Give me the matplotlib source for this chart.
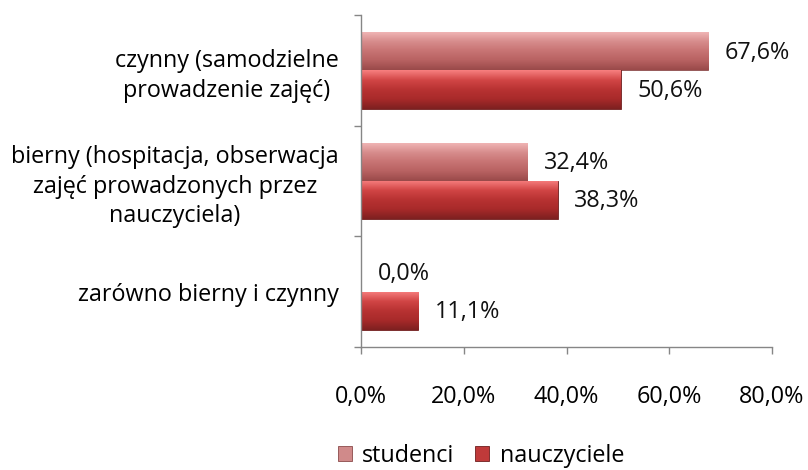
import numpy as np
import matplotlib
matplotlib.use("Agg")
import matplotlib.pyplot as plt
from matplotlib.patches import Patch
from matplotlib.colors import LinearSegmentedColormap

categories = ["czynny (samodzielne\nprowadzenie zajęć)",
              "bierny (hospitacja, obserwacja\nzajęć prowadzonych przez\nnauczyciela)",
              "zarówno bierny i czynny"]
studenci = [67.6, 32.4, 0.0]
nauczyciele = [50.6, 38.3, 11.1]
series_names = ["studenci", "nauczyciele"]
xticks = [0, 20, 40, 60, 80]
xtick_labels = ["0,0%", "20,0%", "40,0%", "60,0%", "80,0%"]

plt.rcParams['font.family'] = ['Open Sans', 'DejaVu Sans']
FS = 16.8

fig = plt.figure(figsize=(8.08, 4.70), dpi=100)
ax = fig.add_axes([361/808, 1-347/470, (772-361)/808, (347-15)/470])

y = np.arange(len(categories))
h = 0.345
cmap_s = LinearSegmentedColormap.from_list("s", ["#f2b8b8", "#d88e8e", "#c87474", "#b86262", "#9a4a4a"])
cmap_n = LinearSegmentedColormap.from_list("n", ["#f77f7f", "#d24646", "#b83232", "#a82a2a", "#7e2020"])
bars_s = ax.barh(y - h/2, studenci, height=h, color="#c97676", edgecolor="#8a4a4a", linewidth=0.6, zorder=2)
bars_n = ax.barh(y + h/2, nauczyciele, height=h, color="#b83434", edgecolor="#6e1e1e", linewidth=0.6, zorder=2)

grad = np.linspace(1, 0, 64).reshape(-1, 1)
for bars, cmap in ((bars_s, cmap_s), (bars_n, cmap_n)):
    for b in bars:
        if b.get_width() <= 0:
            continue
        x0, y0 = b.get_x(), b.get_y()
        w, hh = b.get_width(), b.get_height()
        im = ax.imshow(grad, cmap=cmap, aspect='auto', extent=(x0, x0 + w, y0, y0 + hh),
                       origin='upper', zorder=2.5, interpolation='bilinear')
        im.set_clip_path(b)

for bars, vals in ((bars_s, studenci), (bars_n, nauczyciele)):
    for b, v in zip(bars, vals):
        ax.annotate(f"{v:.1f}%".replace(".", ","),
                    (b.get_width(), b.get_y() + b.get_height()/2),
                    xytext=(12, -1), textcoords="offset points",
                    ha="left", va="center", fontsize=FS, color="#111111")

ax.set_xlim(0, 80)
ax.set_ylim(2.5, -0.5)
ax.set_xticks(xticks)
ax.set_xticklabels(xtick_labels, fontsize=FS)
ax.set_yticks(y)
ax.set_yticklabels(categories, fontsize=FS, multialignment="center", linespacing=1.3)
ax.set_yticks([-0.5, 0.5, 1.5, 2.5], minor=True)
ax.tick_params(axis="y", which="major", length=0, pad=16)
ax.tick_params(axis="y", which="minor", length=5, color="#868686", width=1)
ax.tick_params(axis="x", length=5, color="#868686", width=1, pad=22)
for s in ["top", "right"]:
    ax.spines[s].set_visible(False)
for s in ["left", "bottom"]:
    ax.spines[s].set_color("#868686")
    ax.spines[s].set_linewidth(1)

handles = [Patch(facecolor="#d08a8a", edgecolor="#8a4a4a", linewidth=0.6),
           Patch(facecolor="#c03a3a", edgecolor="#6e1e1e", linewidth=0.6)]
fig.legend(handles, series_names, loc="center", bbox_to_anchor=(481/808, 1-456/470),
           ncol=2, frameon=False, fontsize=FS, handlelength=0.6, handleheight=0.6,
           handletextpad=0.45, columnspacing=0.9)

fig.savefig("out.png", dpi=100)
